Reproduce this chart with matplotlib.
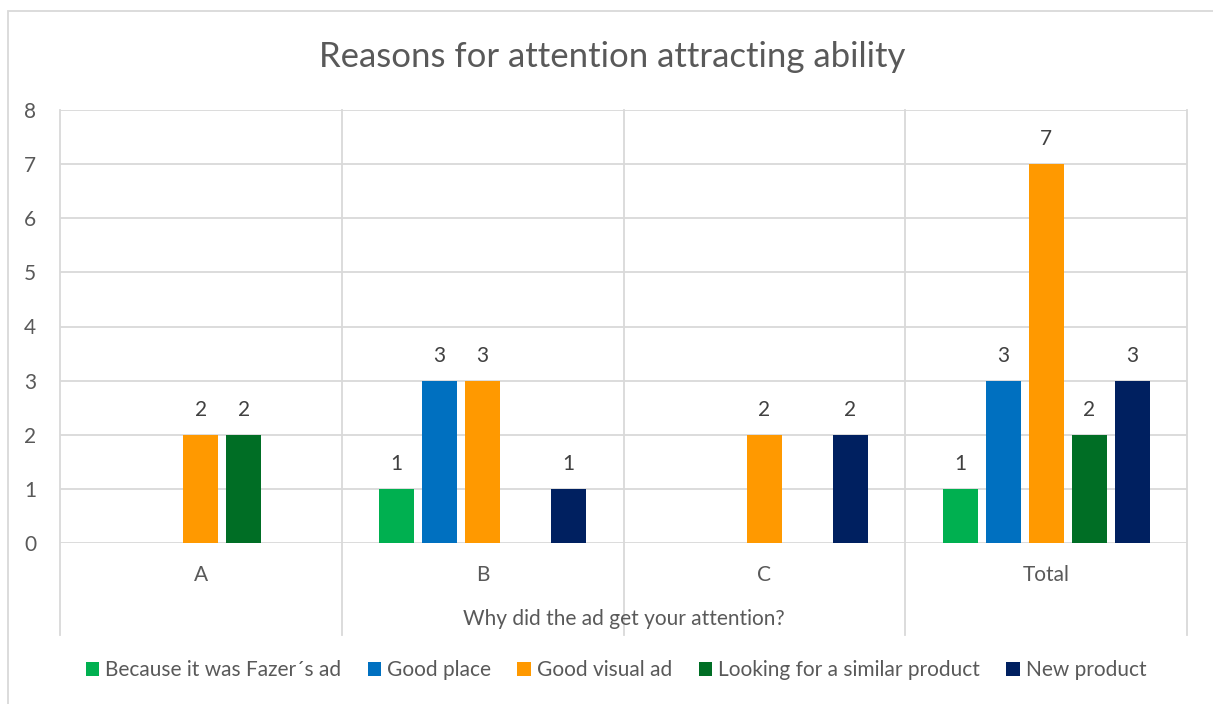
import numpy as np
import matplotlib.pyplot as plt
from matplotlib.patches import Rectangle

plt.rcParams['font.family'] = ['Lato', 'DejaVu Sans']

categories = ["A", "B", "C", "Total"]
series = ["Because it was Fazer\u00b4s ad", "Good place", "Good visual ad",
          "Looking for a similar product", "New product"]
# None = no answer in that group
values = [
    [None, None, 2, 2, None],
    [1, 3, 3, None, 1],
    [None, None, 2, None, 2],
    [1, 3, 7, 2, 3],
]
colors = ["#00B050", "#0070C0", "#FF9900", "#006E25", "#002060"]

text_col = "#595959"
grid_col = "#D9D9D9"

fig = plt.figure(figsize=(12.13, 7.04), dpi=100)
ax = fig.add_axes([60 / 1213, 1 - 543 / 704, 1127 / 1213, 433 / 704])

x = np.arange(len(categories))
bw = 0.124
step = 0.1526
for j, name in enumerate(series):
    xs, hs = [], []
    for i in range(len(categories)):
        v = values[i][j]
        if v is not None:
            xs.append(x[i] + (j - 2) * step)
            hs.append(v)
    bars = ax.bar(xs, hs, width=bw, color=colors[j], label=name, zorder=3)
    for b, v in zip(bars, hs):
        ax.annotate(str(v), (b.get_x() + b.get_width() / 2, v), xytext=(0, 18),
                    textcoords="offset points", ha="center", va="center",
                    fontsize=15, color="#404040")

ax.set_xlim(-0.5, len(categories) - 0.5)
ax.set_ylim(0, 8)
ax.set_yticks(range(0, 9))
ax.yaxis.grid(True, color=grid_col, linewidth=1.3, zorder=0)
ax.set_xticks(x)
ax.set_xticklabels(categories)
ax.tick_params(axis="both", length=0, labelsize=15, labelcolor=text_col)
ax.tick_params(axis="x", pad=16)
ax.tick_params(axis="y", pad=26)
for lab in ax.get_yticklabels():
    lab.set_horizontalalignment("left")
for s in ax.spines.values():
    s.set_visible(False)

# category separators running down past the axis labels
for xv in np.arange(-0.5, len(categories), 1.0):
    ax.plot([xv, xv], [-1.7, 8], color=grid_col, linewidth=1.3,
            clip_on=False, zorder=1)

ax.set_xlabel("Why did the ad get your attention?", fontsize=15,
              color=text_col, labelpad=17)

fig.text(0.505, 1 - 57 / 704, "Reasons for attention attracting ability",
         ha="center", va="center", fontsize=25, color=text_col)

fig.legend(loc="center", bbox_to_anchor=(0.508, 1 - 670 / 704), ncol=5,
           frameon=False, fontsize=15, labelcolor=text_col,
           handlelength=0.65, handleheight=0.65, handletextpad=0.3,
           columnspacing=1.25)

fig.patches.append(Rectangle((8 / 1213, -0.05), 1.2, 1 - 11 / 704 + 0.05,
                             transform=fig.transFigure, fill=False,
                             edgecolor=grid_col, linewidth=1.3))

fig.savefig("out.png", dpi=100)
